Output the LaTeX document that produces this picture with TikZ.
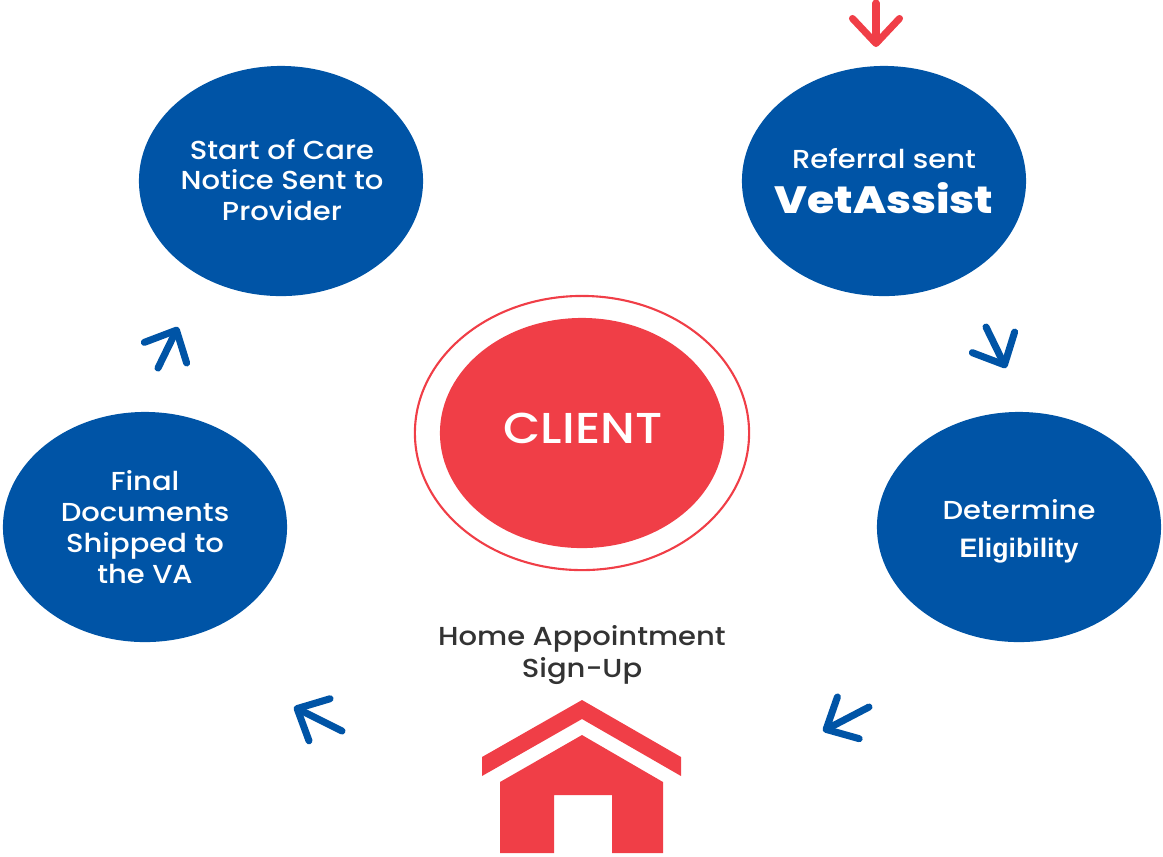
\documentclass[tikz,border=0pt]{standalone}
\usepackage{fontspec}
\setmainfont[FakeStretch=1.115]{Poppins Medium}
\newfontfamily\arialfont{Liberation Sans}
\newfontfamily\brandfont[FakeStretch=1.16]{Poppins ExtraBold}
\usetikzlibrary{arrows.meta, shapes.geometric}
\definecolor{stepblue}{HTML}{0054A6}
\definecolor{clientred}{HTML}{F03E47}
\definecolor{labelgray}{HTML}{333333}
\tikzset{
    stepnode/.style={ellipse, fill=stepblue, text=white, inner sep=-0.6cm, minimum width=2.84cm, minimum height=2.3cm, align=center, font=\fontsize{7.4}{8.8}\selectfont},
    flowarrow/.style={line width=2pt, line cap=round, draw=stepblue, -{Straight Barb[length=0.25cm, width=0.47cm, round]}},
}
\begin{document}
\begin{tikzpicture}[x=0.01cm, y=-0.01cm]
    \useasboundingbox (0, 0) rectangle (1163, 856);

    \node[stepnode] (care) at (281, 181) {};
    \node[text=white, align=center, font=\fontsize{7.4}{8.8}\selectfont] (carelabel) at (282, 180) {Start of Care\\Notice Sent to\\Provider};
    \node[stepnode] (referral) at (884, 181) {Referral sent\\[3pt]{\fontsize{10.8}{10}\brandfont VetAssist}};
    \node[stepnode] (eligibility) at (1019, 527) {};
    \node[text=white, align=center, font=\fontsize{7.4}{8.8}\selectfont] (eligibilitylabel) at (1019, 531) {Determine\\[2pt]{\arialfont\bfseries\fontsize{7.6}{8.8}\selectfont Eligibility}};
    \node[stepnode] (shipped) at (145, 527) {Final\\Documents\\Shipped to\\the VA};

    \node[ellipse, draw=clientred, line width=0.6pt, minimum width=3.34cm, minimum height=2.74cm] (ring) at (582, 433) {};
    \node[ellipse, fill=clientred, minimum width=2.84cm, minimum height=2.3cm] (client) at (582, 433) {};
    \node[text=white, font=\fontsize{12.3}{12}\selectfont] (clientlabel) at (583, 428) {CLIENT};

    \node[text=labelgray, align=center, font=\fontsize{7.4}{8.8}\selectfont] (signup) at (582, 655) {Home Appointment\\[0.5pt]Sign-Up};

    % house
    \fill[clientred] (582, 700) -- (681, 757) -- (681, 776) -- (582, 719) -- (482, 776) -- (482, 757) -- cycle;
    \fill[clientred] (582, 735) -- (663, 782) -- (663, 853) -- (612, 853) -- (612, 795) -- (554, 795) -- (554, 853) -- (500, 853) -- (500, 782) -- cycle;

    % arrows
    \coordinate (a1s) at (876, 3);
    \coordinate (a1e) at (876, 47);
    \coordinate (a2s) at (986, 327);
    \coordinate (a2e) at (1006, 368);
    \coordinate (a3s) at (869, 707);
    \coordinate (a3e) at (823, 731);
    \coordinate (a4s) at (342, 731);
    \coordinate (a4e) at (294, 707);
    \coordinate (a5s) at (158, 368);
    \coordinate (a5e) at (178, 327);
    \draw[flowarrow, draw=clientred] (a1s) -- (a1e);
    \draw[flowarrow] (a2s) -- (a2e);
    \draw[flowarrow] (a3s) -- (a3e);
    \draw[flowarrow] (a4s) -- (a4e);
    \draw[flowarrow] (a5s) -- (a5e);
\end{tikzpicture}
\end{document}
